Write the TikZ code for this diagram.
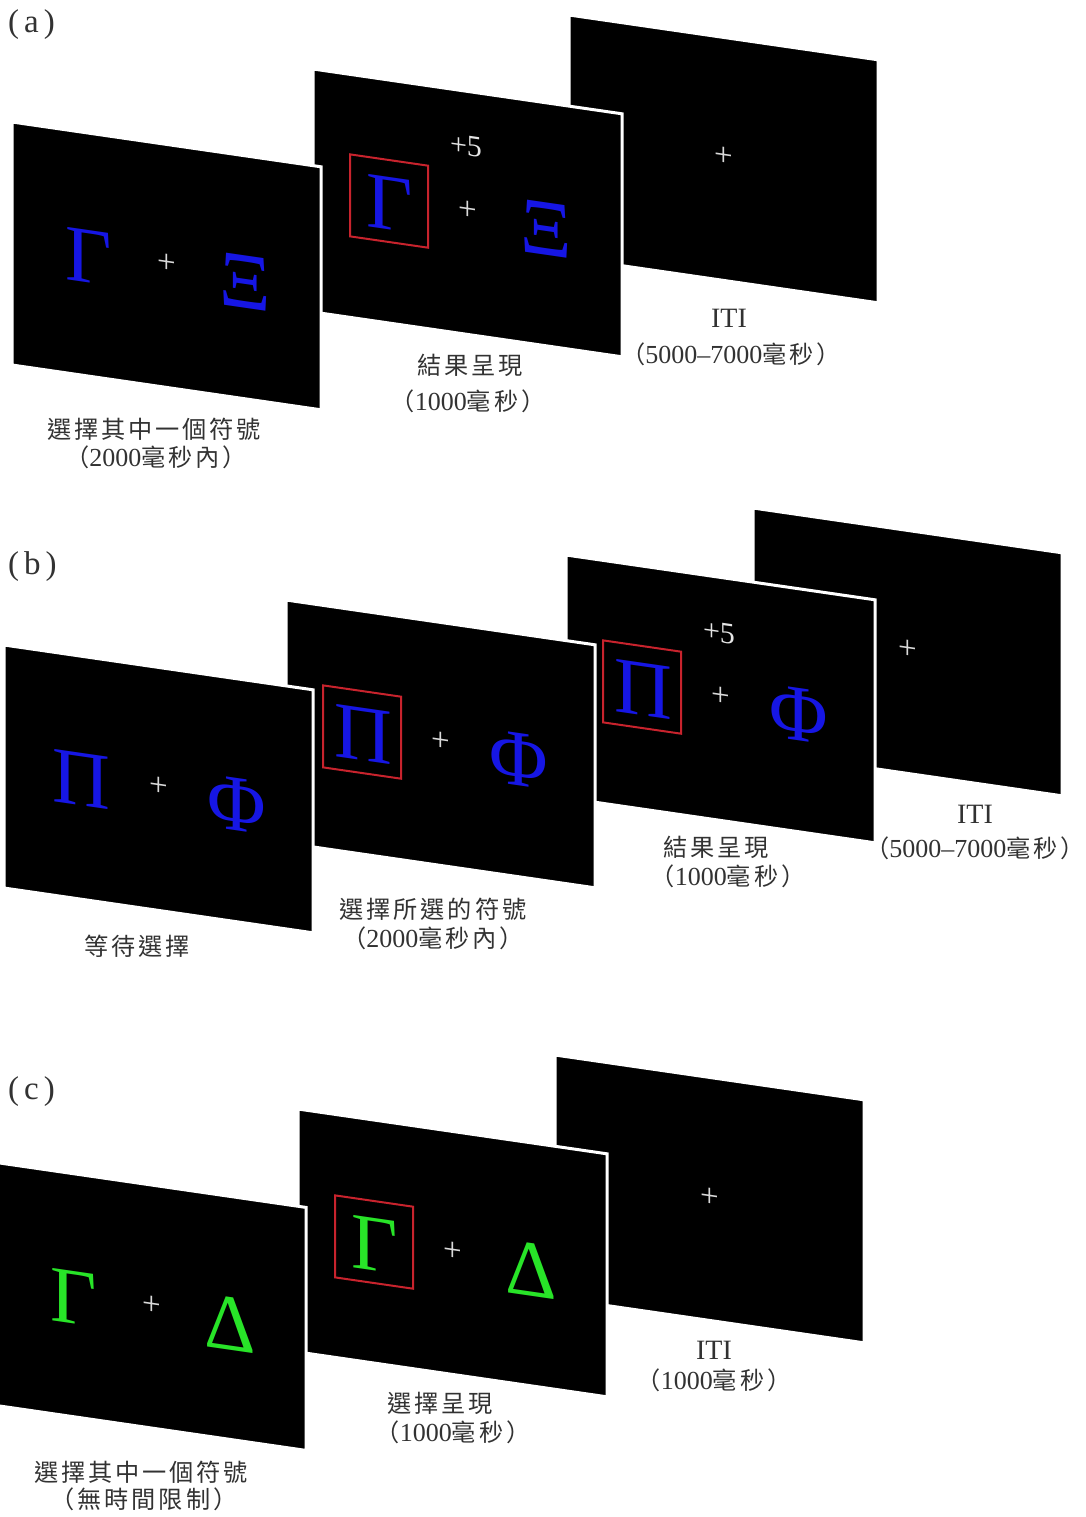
\documentclass[tikz,border=0pt]{standalone}
\usepackage{fontspec}
\setmainfont{Liberation Serif}
\newfontfamily\cjkwide[LetterSpace=12,Scale=0.93]{Noto Sans CJK TC}
\newcommand{\cj}[1]{{\cjkwide #1}}
\definecolor{symblue}{RGB}{22,22,228}
\definecolor{symgreen}{RGB}{40,228,40}
\definecolor{boxred}{RGB}{200,35,45}
\definecolor{labelgray}{RGB}{50,50,50}
\tikzset{
  screenbg/.style={fill=black, draw=white, line width=3pt, line join=miter},
  sym/.style={font=\fontsize{80}{82}\selectfont, transform shape, inner sep=0pt},
  fixcross/.style={text=white!85!black, font=\fontsize{33}{35}\selectfont, transform shape, inner sep=0pt},
  bonus/.style={text=white!90!black, font=\fontsize{30}{32}\selectfont, transform shape, inner sep=0pt},
  selbox/.style={draw=boxred, line width=2pt},
  lbl/.style={text=labelgray, font=\fontsize{26}{28}\selectfont, inner sep=0pt},
  itilbl/.style={text=labelgray, font=\fontsize{28}{30}\selectfont, inner sep=0pt},
  panellbl/.style={text=labelgray, font=\fontsize{33}{35}\selectfont, inner sep=0pt, anchor=west},
}
\begin{document}
\begin{tikzpicture}[x=1pt, y=-1pt]
\useasboundingbox (0,0) rectangle (1086,1517);

% ================= (a) =================
\node[panellbl] (pa) at (8,25) {(\hspace{5pt}a\hspace{5pt})};
% screen 3 (back)
\begin{scope}[shift={(569,15)}, yslant=-0.145]
  \path[screenbg] (0,0) rectangle (309,243);
  \node[fixcross] (a3c) at (155,119) {+};
\end{scope}
% screen 2
\begin{scope}[shift={(313,69)}, yslant=-0.145]
  \path[screenbg] (0,0) rectangle (309,243);
  \node[bonus] (a2b) at (153,55) {+5};
  \draw[selbox] (37,80) rectangle (115,162);
  \node[sym, text=symblue] (a2l) at (77,123) {Γ};
  \node[fixcross] (a2c) at (155,119) {+};
  \node[sym, text=symblue] (a2r) at (233,126) {Ξ};
\end{scope}
% screen 1 (front)
\begin{scope}[shift={(12,122)}, yslant=-0.145]
  \path[screenbg] (0,0) rectangle (309,243);
  \node[sym, text=symblue] (a1l) at (77,123) {Γ};
  \node[fixcross] (a1c) at (155,119) {+};
  \node[sym, text=symblue] (a1r) at (233,126) {Ξ};
\end{scope}
\node[lbl] (la1a) at (154,429) {\cj{選擇其中一個符號}};
\node[lbl] (la1b) at (156,457) {\cj{（}2000\cj{毫秒內）}};
\node[lbl] (la2a) at (470,365) {\cj{結果呈現}};
\node[lbl] (la2b) at (468,401) {\cj{（}1000\cj{毫秒）}};
\node[itilbl] (la3a) at (729,318) {ITI};
\node[lbl] (la3b) at (731,354) {\cj{（}5000–7000\cj{毫秒）}};

% ================= (b) =================
\node[panellbl] (pb) at (8,567) {(\hspace{5pt}b\hspace{5pt})};
\begin{scope}[shift={(753,508)}, yslant=-0.145]
  \path[screenbg] (0,0) rectangle (309,243);
  \node[fixcross] (b4c) at (155,119) {+};
\end{scope}
\begin{scope}[shift={(566,555)}, yslant=-0.145]
  \path[screenbg] (0,0) rectangle (309,243);
  \node[bonus] (b3b) at (153,55) {+5};
  \draw[selbox] (37,80) rectangle (115,162);
  \node[sym, text=symblue] (b3l) at (77,123) {Π};
  \node[fixcross] (b3c) at (155,119) {+};
  \node[sym, text=symblue] (b3r) at (233,126) {Φ};
\end{scope}
\begin{scope}[shift={(286,600)}, yslant=-0.145]
  \path[screenbg] (0,0) rectangle (309,243);
  \draw[selbox] (37,80) rectangle (115,162);
  \node[sym, text=symblue] (b2l) at (77,123) {Π};
  \node[fixcross] (b2c) at (155,119) {+};
  \node[sym, text=symblue] (b2r) at (233,126) {Φ};
\end{scope}
\begin{scope}[shift={(4,645)}, yslant=-0.145]
  \path[screenbg] (0,0) rectangle (309,243);
  \node[sym, text=symblue] (b1l) at (77,123) {Π};
  \node[fixcross] (b1c) at (155,119) {+};
  \node[sym, text=symblue] (b1r) at (233,126) {Φ};
\end{scope}
\node[lbl] (lb1a) at (137,946) {\cj{等待選擇}};
\node[lbl] (lb2a) at (433,909) {\cj{選擇所選的符號}};
\node[lbl] (lb2b) at (433,938) {\cj{（}2000\cj{毫秒內）}};
\node[lbl] (lb3a) at (716,847) {\cj{結果呈現}};
\node[lbl] (lb3b) at (728,876) {\cj{（}1000\cj{毫秒）}};
\node[itilbl] (lb4a) at (975,814) {ITI};
\node[lbl] (lb4b) at (975,848) {\cj{（}5000–7000\cj{毫秒）}};

% ================= (c) =================
\node[panellbl] (pc) at (8,1092) {(\hspace{5pt}c\hspace{5pt})};
\begin{scope}[shift={(555,1055)}, yslant=-0.145]
  \path[screenbg] (0,0) rectangle (309,243);
  \node[fixcross] (c3c) at (155,120) {+};
\end{scope}
\begin{scope}[shift={(298,1109)}, yslant=-0.145]
  \path[screenbg] (0,0) rectangle (309,243);
  \draw[selbox] (37,81) rectangle (115,163);
  \node[sym, text=symgreen] (c2l) at (77,124) {Γ};
  \node[fixcross] (c2c) at (155,120) {+};
  \node[sym, text=symgreen] (c2r) at (233,127) {Δ};
\end{scope}
\begin{scope}[shift={(-3,1162.6)}, yslant=-0.145]
  \path[screenbg] (0,0) rectangle (309,243);
  \node[sym, text=symgreen] (c1l) at (77,124) {Γ};
  \node[fixcross] (c1c) at (155,120) {+};
  \node[sym, text=symgreen] (c1r) at (233,127) {Δ};
\end{scope}
\node[lbl] (lc1a) at (141,1472) {\cj{選擇其中一個符號}};
\node[lbl] (lc1b) at (144,1499) {\cj{（無時間限制）}};
\node[lbl] (lc2a) at (440,1403) {\cj{選擇呈現}};
\node[lbl] (lc2b) at (453,1432) {\cj{（}1000\cj{毫秒）}};
\node[itilbl] (lc3a) at (714,1350) {ITI};
\node[lbl] (lc3b) at (714,1380) {\cj{（}1000\cj{毫秒）}};
\end{tikzpicture}
\end{document}
